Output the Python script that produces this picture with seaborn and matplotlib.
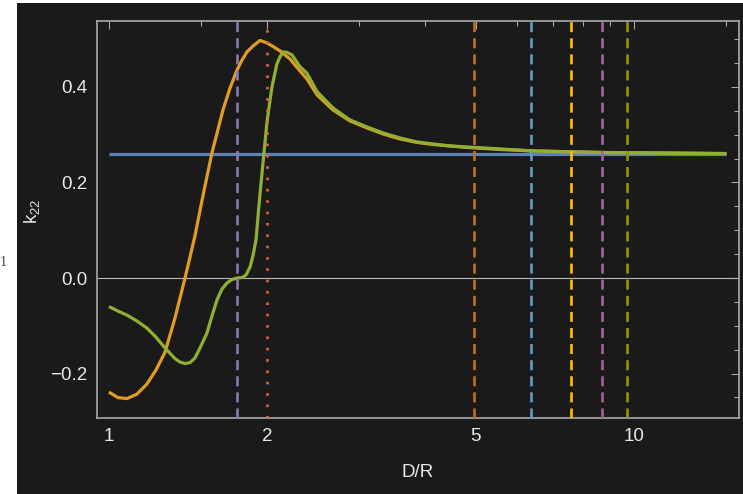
import matplotlib
matplotlib.use("Agg")
import matplotlib.pyplot as plt
import seaborn as sns
import pandas as pd
from matplotlib.patches import Rectangle
from matplotlib.ticker import FixedLocator, FixedFormatter, NullFormatter

# k22 against D/R for the three models
dr_orange = [1.000, 1.040, 1.082, 1.131, 1.181, 1.229, 1.279, 1.336, 1.396, 1.427,
             1.458, 1.510, 1.571, 1.649, 1.701, 1.754, 1.793, 1.832, 1.882, 1.940,
             2.000, 2.053, 2.117, 2.212, 2.311, 2.383, 2.491, 2.671, 2.878, 3.101,
             3.326, 3.584, 3.862, 4.142, 4.463, 4.809, 5.556, 6.420, 8.615, 15.0]
k22_orange = [-0.2387, -0.2503, -0.2524, -0.2429, -0.2220, -0.1927, -0.1550, -0.0838,
              0.0, 0.0440, 0.0880, 0.1717, 0.2618, 0.3518, 0.3979, 0.4356, 0.4565,
              0.4733, 0.4859, 0.4974, 0.4921, 0.4848, 0.4754, 0.4586, 0.4335, 0.4168,
              0.3832, 0.3518, 0.3288, 0.3141, 0.3016, 0.2911, 0.2838, 0.2796, 0.2764,
              0.2733, 0.2691, 0.2660, 0.2628, 0.2603]

dr_green = [1.000, 1.040, 1.082, 1.131, 1.181, 1.229, 1.279, 1.336, 1.366, 1.396,
            1.427, 1.458, 1.497, 1.537, 1.571, 1.606, 1.642, 1.678, 1.715, 1.754,
            1.793, 1.824, 1.857, 1.882, 1.906, 1.931, 1.966, 2.000, 2.044, 2.089,
            2.117, 2.145, 2.183, 2.232, 2.311, 2.383, 2.491, 2.671, 2.878, 3.101,
            3.326, 3.584, 3.862, 4.142, 4.463, 4.809, 5.556, 6.420, 8.615, 15.0]
k22_green = [-0.0597, -0.0691, -0.0775, -0.0901, -0.1047, -0.1236, -0.1466, -0.1686,
             -0.1759, -0.1791, -0.1770, -0.1675, -0.1424, -0.1152, -0.0796, -0.0461,
             -0.0230, -0.0105, -0.0031, 0.0, 0.0010, 0.0063, 0.0230, 0.0482, 0.0796,
             0.1529, 0.2429, 0.3267, 0.4000, 0.4482, 0.4628, 0.4733, 0.4723, 0.4670,
             0.4425, 0.4287, 0.3902, 0.3560, 0.3309, 0.3162, 0.3037, 0.2932, 0.2848,
             0.2806, 0.2764, 0.2743, 0.2702, 0.2660, 0.2628, 0.2607]

dr_flat = [1.0, 15.0]
k22_flat = [0.2597, 0.2597]

# reference separations marked with vertical lines
dashed_dr = [1.75, 4.95, 6.36, 7.58, 8.68, 9.71]
dashed_colors = ["#8778B3", "#C56E1A", "#5D9EC7", "#FFBF00", "#A5609D", "#929600"]
dotted_dr = 2.0

x_major = [1, 2, 5, 10]
x_major_labels = ["1", "2", "5", "10"]
x_minor = [1.5, 3, 4, 6, 7, 8, 9, 15]
y_major = [-0.2, 0.0, 0.2, 0.4]
y_major_labels = ["\u22120.2", "0.0", "0.2", "0.4"]
y_minor = [-0.25, -0.15, -0.1, -0.05, 0.05, 0.1, 0.15, 0.25, 0.3, 0.35, 0.45, 0.5]

sns.set_theme(style="dark")
plt.rcParams["font.family"] = ["Liberation Sans", "DejaVu Sans"]
plt.rcParams["lines.solid_capstyle"] = "butt"

BG = "#1a1a1a"
FRAME = "#a9a9a9"
TEXT = "#e8e8e8"

fig = plt.figure(figsize=(7.43, 4.94), dpi=100)
fig.patch.set_facecolor("white")
fig.patches.append(Rectangle((17 / 743, 0), 1 - 17 / 743, 491 / 494,
                             transform=fig.transFigure, facecolor=BG,
                             edgecolor="none", zorder=-10))
fig.text(0.0, 1 - 263 / 494, "1", family="Liberation Serif", fontsize=10,
         color="#444444", va="center", ha="left")

ax = fig.add_axes([97 / 743, 76 / 494, 642 / 743, 397 / 494])
ax.set_facecolor(BG)

ax.axhline(0.0, color="#b8b8b8", lw=0.8, zorder=1)

sns.lineplot(x=dr_flat, y=k22_flat, ax=ax, color="#5E81B5", lw=2.3, zorder=2)
sns.lineplot(data=pd.DataFrame({"dr": dr_orange, "k": k22_orange}), x="dr", y="k",
             ax=ax, color="#E19C24", lw=2.3, zorder=3)
sns.lineplot(data=pd.DataFrame({"dr": dr_green, "k": k22_green}), x="dr", y="k",
             ax=ax, color="#8FB032", lw=2.3, zorder=4)
for line in ax.get_lines():
    line.set_solid_joinstyle("round")

for pos, col in zip(dashed_dr, dashed_colors):
    ax.axvline(pos, color=col, lw=1.9, linestyle=(0, (3.8, 2.3)), zorder=5)
ax.axvline(dotted_dr, color="#EB6235", lw=1.9, linestyle=(0, (1.0, 3.3)), zorder=5)

ax.set_xscale("log")
ax.set_xlim(0.949, 15.85)
ax.set_ylim(-0.293, 0.538)

ax.xaxis.set_major_locator(FixedLocator(x_major))
ax.xaxis.set_major_formatter(FixedFormatter(x_major_labels))
ax.xaxis.set_minor_locator(FixedLocator(x_minor))
ax.xaxis.set_minor_formatter(NullFormatter())
ax.yaxis.set_major_locator(FixedLocator(y_major))
ax.yaxis.set_major_formatter(FixedFormatter(y_major_labels))
ax.yaxis.set_minor_locator(FixedLocator(y_minor))

ax.grid(False)
for side in ax.spines.values():
    side.set_visible(True)
    side.set_color(FRAME)
    side.set_linewidth(1.2)

ax.tick_params(which="both", direction="in", top=True, right=True,
               color=FRAME, width=0.8, labelcolor=TEXT, labelsize=13.5)
ax.tick_params(which="major", length=5.5, pad=7)
ax.tick_params(which="minor", length=3.5)

ax.set_xlabel("D/R", color=TEXT, fontsize=13.5, labelpad=14)
ax.set_ylabel(r"$\mathregular{k_{22}}$", color=TEXT, fontsize=13.5, labelpad=6)
ax.yaxis.label.set_y(0.52)

fig.savefig("out.png", dpi=100, facecolor=fig.get_facecolor())
